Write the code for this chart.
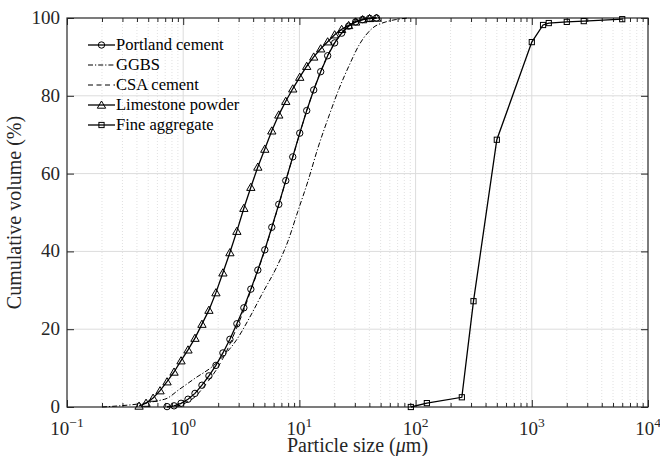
<!DOCTYPE html>
<html>
<head>
<meta charset="utf-8">
<script src="https://cdn.jsdelivr.net/npm/d3@7"></script>
<style>
  body { margin: 0; background: #fff; }
  text { font-family: 'Liberation Serif', 'DejaVu Serif', 'Times New Roman', Times, serif; }
  .tick-label { fill: #262626; font-size: 19px; }
  .axis-label { fill: #262626; font-size: 20px; }
  .legend text { fill: #000; font-size: 16.5px; }
</style>
</head>
<body>
<svg width="660" height="456" font-family="Liberation Serif, DejaVu Serif, serif"></svg>
<script>
// particle size bins (um), shared by the laser diffraction curves
const binSizes = [0.417, 0.479, 0.551, 0.632, 0.726, 0.834, 0.958, 1.100, 1.263, 1.450,
  1.665, 1.913, 2.197, 2.523, 2.897, 3.327, 3.821, 4.388, 5.039, 5.787,
  6.646, 7.633, 8.766, 10.07, 11.56, 13.28, 15.25, 17.51, 20.11, 23.10,
  26.53, 30.46, 34.99, 40.18, 46.1]

// portland cement starts at bin 4 (0.726 um)
const portlandSizes = binSizes.slice(4)
const portlandValues = [0.1, 0.3, 0.95, 2.0, 3.5, 5.6, 8.0, 10.7, 13.9, 17.4,
  21.4, 25.5, 30.3, 35.2, 40.4, 46.2, 52.1, 58.2, 64.3, 70.4,
  76.2, 81.5, 86.2, 90.3, 93.6, 96.1, 97.9, 99.0, 99.6, 99.9, 100]

const csaSizes = binSizes.slice(4, 34)
const csaValues = [0, 0.1, 0.5, 1.4, 2.6, 4.6, 6.9, 9.4, 12.5, 16.2,
  20.5, 24.9, 30.0, 35.0, 40.3, 46.0, 52.0, 58.1, 64.2, 70.3,
  76.2, 81.5, 86.3, 90.4, 93.7, 96.2, 98.0, 99.1, 99.7, 100]

const limestoneSizes = binSizes
const limestoneValues = [0.26, 1.0, 2.3, 4.2, 6.5, 9.0, 11.9, 14.7, 17.7, 21.3,
  24.9, 29.4, 34.5, 39.7, 45.2, 51.1, 56.5, 61.7, 66.3, 71.0,
  75.1, 78.6, 81.8, 84.8, 87.6, 90.0, 92.1, 93.9, 95.7, 97.1,
  98.1, 99.0, 99.6, 99.9, 100]

const ggbsSizes = [0.2, 0.693, 0.933, 1.28, 1.80, 2.20, 2.87, 3.73, 4.84, 6.31,
  7.94, 9.67, 11.8, 14.4, 18.1, 22.0, 26.9, 32.7, 42.6, 55.5, 67.6, 87.9]
const ggbsValues = [0, 2.0, 4.6, 7.5, 10.5, 13.0, 17.2, 23.0, 29.4, 35.7,
  42.5, 50.2, 57.9, 66.5, 75.1, 81.9, 87.9, 93.1, 97.4, 99.0, 99.6, 100]

const aggregateSizes = [91, 125, 250, 315, 500, 1000, 1250, 1400, 2000, 2800, 6000]
const aggregateValues = [0, 1.0, 2.5, 27.2, 68.7, 93.8, 98.2, 98.7, 99.0, 99.2, 99.7]

const legendNames = ["Portland cement", "GGBS", "CSA cement", "Limestone powder", "Fine aggregate"]
const xTickExponents = [-1, 0, 1, 2, 3, 4]
const yTicks = [0, 20, 40, 60, 80, 100]

const {
  select,
  scaleLog,
  scaleLinear,
  axisBottom,
  axisTop,
  axisLeft,
  axisRight,
  line,
  curveMonotoneX,
  symbol,
  symbolTriangle,
  range
} = d3;

const svg = select('svg')
const margin = { top: 18, right: 12, bottom: 49, left: 67 }
const width = +svg.attr('width')
const height = +svg.attr('height')
const innerWidth = width - margin.left - margin.right
const innerHeight = height - margin.top - margin.bottom

const xScale = scaleLog().domain([0.1, 1e4]).range([0, innerWidth])
const yScale = scaleLinear().domain([0, 100]).range([innerHeight, 0])

const majorX = xTickExponents.map(e => Math.pow(10, e))
let minorX = []
xTickExponents.slice(0, -1).forEach(e => {
  range(2, 10).forEach(m => minorX.push(m * Math.pow(10, e)))
})

const g = svg.append('g')
  .attr('transform', `translate(${margin.left},${margin.top})`)

// grid: dotted minor verticals, solid light majors
g.append('g').selectAll('line').data(minorX)
  .enter().append('line')
  .attr('x1', d => xScale(d)).attr('x2', d => xScale(d))
  .attr('y1', 0).attr('y2', innerHeight)
  .attr('stroke', '#d9d9d9')
  .attr('stroke-width', 0.8)
  .attr('stroke-dasharray', '1,2')

g.append('g').selectAll('line').data(majorX.slice(1, -1))
  .enter().append('line')
  .attr('x1', d => xScale(d)).attr('x2', d => xScale(d))
  .attr('y1', 0).attr('y2', innerHeight)
  .attr('stroke', '#dcdcdc')
  .attr('stroke-width', 1)

g.append('g').selectAll('line').data(yTicks.slice(1, -1))
  .enter().append('line')
  .attr('x1', 0).attr('x2', innerWidth)
  .attr('y1', d => yScale(d)).attr('y2', d => yScale(d))
  .attr('stroke', '#dcdcdc')
  .attr('stroke-width', 1)

// axes, ticks pointing inwards on all four sides
const styleAxis = sel => {
  sel.selectAll('.domain').remove()
  sel.selectAll('text').remove()
  sel.selectAll('line').attr('stroke', '#262626')
}

g.append('g').attr('transform', `translate(0,${innerHeight})`)
  .call(axisBottom(xScale).tickValues(majorX).tickSize(-7)).call(styleAxis)
g.append('g').attr('transform', `translate(0,${innerHeight})`)
  .call(axisBottom(xScale).tickValues(minorX).tickSize(-4)).call(styleAxis)
g.append('g')
  .call(axisTop(xScale).tickValues(majorX).tickSize(-7)).call(styleAxis)
g.append('g')
  .call(axisTop(xScale).tickValues(minorX).tickSize(-4)).call(styleAxis)
g.append('g')
  .call(axisLeft(yScale).tickValues(yTicks).tickSize(-7)).call(styleAxis)
g.append('g').attr('transform', `translate(${innerWidth},0)`)
  .call(axisRight(yScale).tickValues(yTicks).tickSize(-7)).call(styleAxis)

g.append('rect')
  .attr('width', innerWidth)
  .attr('height', innerHeight)
  .attr('fill', 'none')
  .attr('stroke', '#262626')
  .attr('stroke-width', 1.2)

// tick labels
const xLabels = g.append('g').selectAll('text').data(xTickExponents)
  .enter().append('text')
  .attr('class', 'tick-label')
  .attr('x', d => xScale(Math.pow(10, d)))
  .attr('y', innerHeight + 28)
  .attr('text-anchor', 'middle')
xLabels.append('tspan').text('10')
xLabels.append('tspan')
  .attr('dy', -8)
  .attr('font-size', 13.5)
  .text(d => d < 0 ? '\u2212' + (-d) : d)

g.append('g').selectAll('text').data(yTicks)
  .enter().append('text')
  .attr('class', 'tick-label')
  .attr('x', -7)
  .attr('y', d => yScale(d))
  .attr('dy', '0.32em')
  .attr('text-anchor', 'end')
  .text(d => d)

// axis labels
const xAxisLabel = g.append('text')
  .attr('class', 'axis-label')
  .attr('x', innerWidth / 2)
  .attr('y', innerHeight + 45)
  .attr('text-anchor', 'middle')
xAxisLabel.append('tspan').text('Particle size (')
xAxisLabel.append('tspan').attr('font-style', 'italic').text('\u03bc')
xAxisLabel.append('tspan').text('m)')

g.append('text')
  .attr('class', 'axis-label')
  .attr('transform', `translate(-46,${innerHeight / 2}) rotate(-90)`)
  .attr('text-anchor', 'middle')
  .text('Cumulative volume (%)')

// series
const series = [
  { name: legendNames[0], sizes: portlandSizes, values: portlandValues, dash: null, marker: 'circle' },
  { name: legendNames[1], sizes: ggbsSizes, values: ggbsValues, dash: '5,2,1.2,2', marker: null, smooth: true },
  { name: legendNames[2], sizes: csaSizes, values: csaValues, dash: '5,3.5', marker: null, smooth: true },
  { name: legendNames[3], sizes: limestoneSizes, values: limestoneValues, dash: null, marker: 'triangle' },
  { name: legendNames[4], sizes: aggregateSizes, values: aggregateValues, dash: null, marker: 'square' }
]

const drawMarker = (sel, type, x, y) => {
  if (type === 'circle') {
    sel.append('circle').attr('cx', x).attr('cy', y).attr('r', 3.2)
      .attr('fill', 'none').attr('stroke', '#000').attr('stroke-width', 1)
  } else if (type === 'triangle') {
    sel.append('path').attr('d', symbol(symbolTriangle, 30)())
      .attr('transform', `translate(${x},${y + 0.8})`)
      .attr('fill', 'none').attr('stroke', '#000').attr('stroke-width', 1)
  } else if (type === 'square') {
    sel.append('rect').attr('x', x - 2.6).attr('y', y - 2.6)
      .attr('width', 5.2).attr('height', 5.2)
      .attr('fill', 'none').attr('stroke', '#000').attr('stroke-width', 1)
  }
}

const plotG = g.append('g')
series.forEach(s => {
  const pts = s.sizes.map((d, i) => [xScale(d), yScale(s.values[i])])
  const lineGenerator = line()
  if (s.smooth) lineGenerator.curve(curveMonotoneX)
  plotG.append('path')
    .attr('d', lineGenerator(pts))
    .attr('fill', 'none')
    .attr('stroke', '#000')
    .attr('stroke-width', s.dash ? 1 : 1.3)
    .attr('stroke-dasharray', s.dash)
  if (s.marker) {
    const mg = plotG.append('g')
    pts.forEach(p => drawMarker(mg, s.marker, p[0], p[1]))
  }
})

// legend
const legend = g.append('g').attr('class', 'legend')
  .attr('transform', 'translate(21,27)')
series.forEach((s, i) => {
  const row = legend.append('g').attr('transform', `translate(0,${i * 20})`)
  row.append('line')
    .attr('x1', 0).attr('x2', 27)
    .attr('stroke', '#000')
    .attr('stroke-width', s.dash ? 1 : 1.3)
    .attr('stroke-dasharray', s.dash)
  if (s.marker) drawMarker(row, s.marker, 13.5, 0)
  row.append('text')
    .attr('x', 28)
    .attr('dy', '0.33em')
    .text(s.name)
})
</script>
</body>
</html>
